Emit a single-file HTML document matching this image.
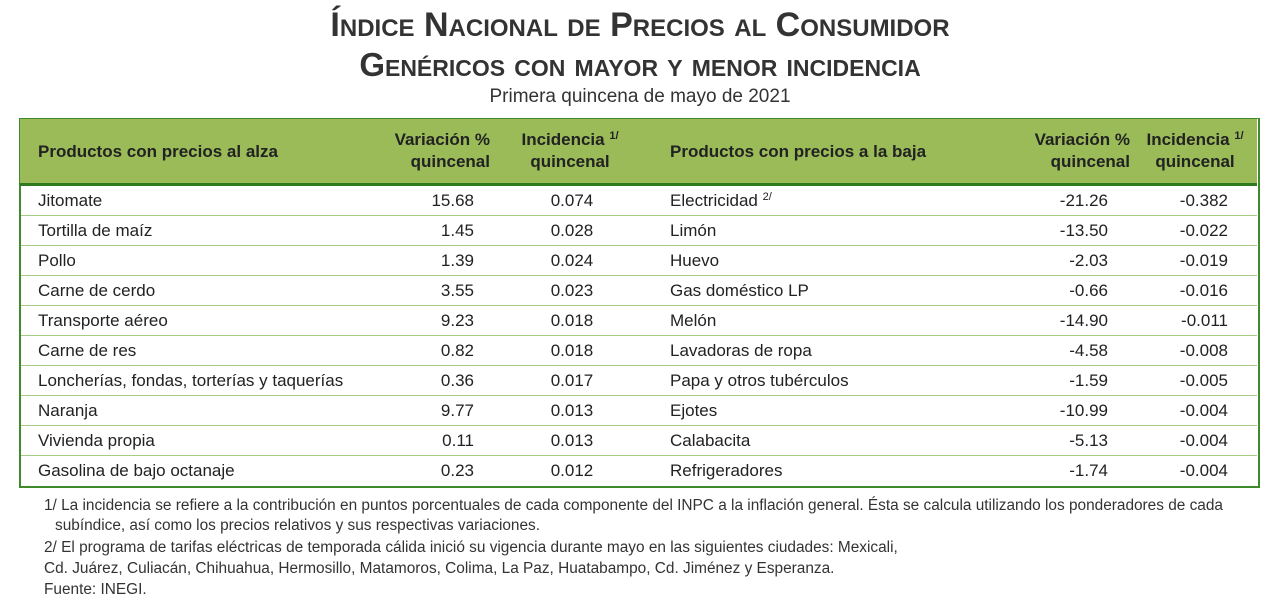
<!DOCTYPE html><html><head><meta charset="utf-8"><style>
body{margin:0;width:1280px;height:609px;background:#fff;position:relative;overflow:hidden;font-family:"Liberation Sans",Arial,sans-serif;color:#222}
.a{position:absolute;white-space:nowrap}
.t{left:0;width:1280px;text-align:center;font-weight:bold;color:#333;font-variant:small-caps}
.h{font-weight:bold;font-size:17px;color:#222;line-height:22px}
.r{font-size:17px;line-height:30px}
.f{font-size:15.4px;color:#333;left:44px}
sup{font-size:11px;vertical-align:6px;line-height:0}
</style></head><body>
<div class="a t" style="top:6px;font-size:34px">Índice Nacional de Precios al Consumidor</div>
<div class="a t" style="top:46px;font-size:33px">Genéricos con mayor y menor incidencia</div>
<div class="a" style="top:86px;left:0;width:1280px;text-align:center;font-size:19px;color:#333">Primera quincena de mayo de 2021</div>
<div class="a" style="left:19px;top:118px;width:1237px;height:367px;border:2px solid #3f8a2a;border-top-width:1px"></div>
<div class="a" style="left:20px;top:119px;width:1237px;height:64px;background:#9bbb59;border-bottom:3px solid #2e7a1e"></div>
<div class="a h" style="left:38px;top:141px">Productos con precios al alza</div>
<div class="a h" style="left:380px;top:129px;width:110px;text-align:right">Variación %<br>quincenal</div>
<div class="a h" style="left:510px;top:129px;width:120px;text-align:center">Incidencia <sup>1/</sup><br>quincenal</div>
<div class="a h" style="left:670px;top:141px">Productos con precios a la baja</div>
<div class="a h" style="left:1010px;top:129px;width:120px;text-align:right">Variación %<br>quincenal</div>
<div class="a h" style="left:1135px;top:129px;width:120px;text-align:center">Incidencia <sup>1/</sup><br>quincenal</div>
<div id="rows"></div>
<script>
var d=[["Jitomate","15.68","0.074","Electricidad <sup>2/</sup>","-21.26","-0.382"],
["Tortilla de maíz","1.45","0.028","Limón","-13.50","-0.022"],
["Pollo","1.39","0.024","Huevo","-2.03","-0.019"],
["Carne de cerdo","3.55","0.023","Gas doméstico LP","-0.66","-0.016"],
["Transporte aéreo","9.23","0.018","Melón","-14.90","-0.011"],
["Carne de res","0.82","0.018","Lavadoras de ropa","-4.58","-0.008"],
["Loncherías, fondas, torterías y taquerías","0.36","0.017","Papa y otros tubérculos","-1.59","-0.005"],
["Naranja","9.77","0.013","Ejotes","-10.99","-0.004"],
["Vivienda propia","0.11","0.013","Calabacita","-5.13","-0.004"],
["Gasolina de bajo octanaje","0.23","0.012","Refrigeradores","-1.74","-0.004"]];
var h="";d.forEach(function(r,i){var y=186+30*i;
if(i>0)h+='<div class="a" style="left:21px;top:'+(y-1)+'px;width:1236px;height:1px;background:#a6cc84"></div>';
h+='<div class="a r" style="left:38px;top:'+y+'px">'+r[0]+'</div>';
h+='<div class="a r" style="left:374px;width:100px;text-align:right;top:'+y+'px">'+r[1]+'</div>';
h+='<div class="a r" style="left:522px;width:100px;text-align:center;top:'+y+'px">'+r[2]+'</div>';
h+='<div class="a r" style="left:670px;top:'+y+'px">'+r[3]+'</div>';
h+='<div class="a r" style="left:1008px;width:100px;text-align:right;top:'+y+'px">'+r[4]+'</div>';
h+='<div class="a r" style="left:1128px;width:100px;text-align:right;top:'+y+'px">'+r[5]+'</div>';});
document.getElementById("rows").innerHTML=h;
</script>
<div class="a f" style="top:497px">1/ La incidencia se refiere a la contribución en puntos porcentuales de cada componente del INPC a la inflación general. Ésta se calcula utilizando los ponderadores de cada</div>
<div class="a f" style="top:517px;left:55px">subíndice, así como los precios relativos y sus respectivas variaciones.</div>
<div class="a f" style="top:539px">2/ El programa de tarifas eléctricas de temporada cálida inició su vigencia durante mayo en las siguientes ciudades: Mexicali,</div>
<div class="a f" style="top:560px">Cd. Juárez, Culiacán, Chihuahua, Hermosillo, Matamoros, Colima, La Paz, Huatabampo, Cd. Jiménez y Esperanza.</div>
<div class="a f" style="top:581px">Fuente: INEGI.</div>
</body></html>
